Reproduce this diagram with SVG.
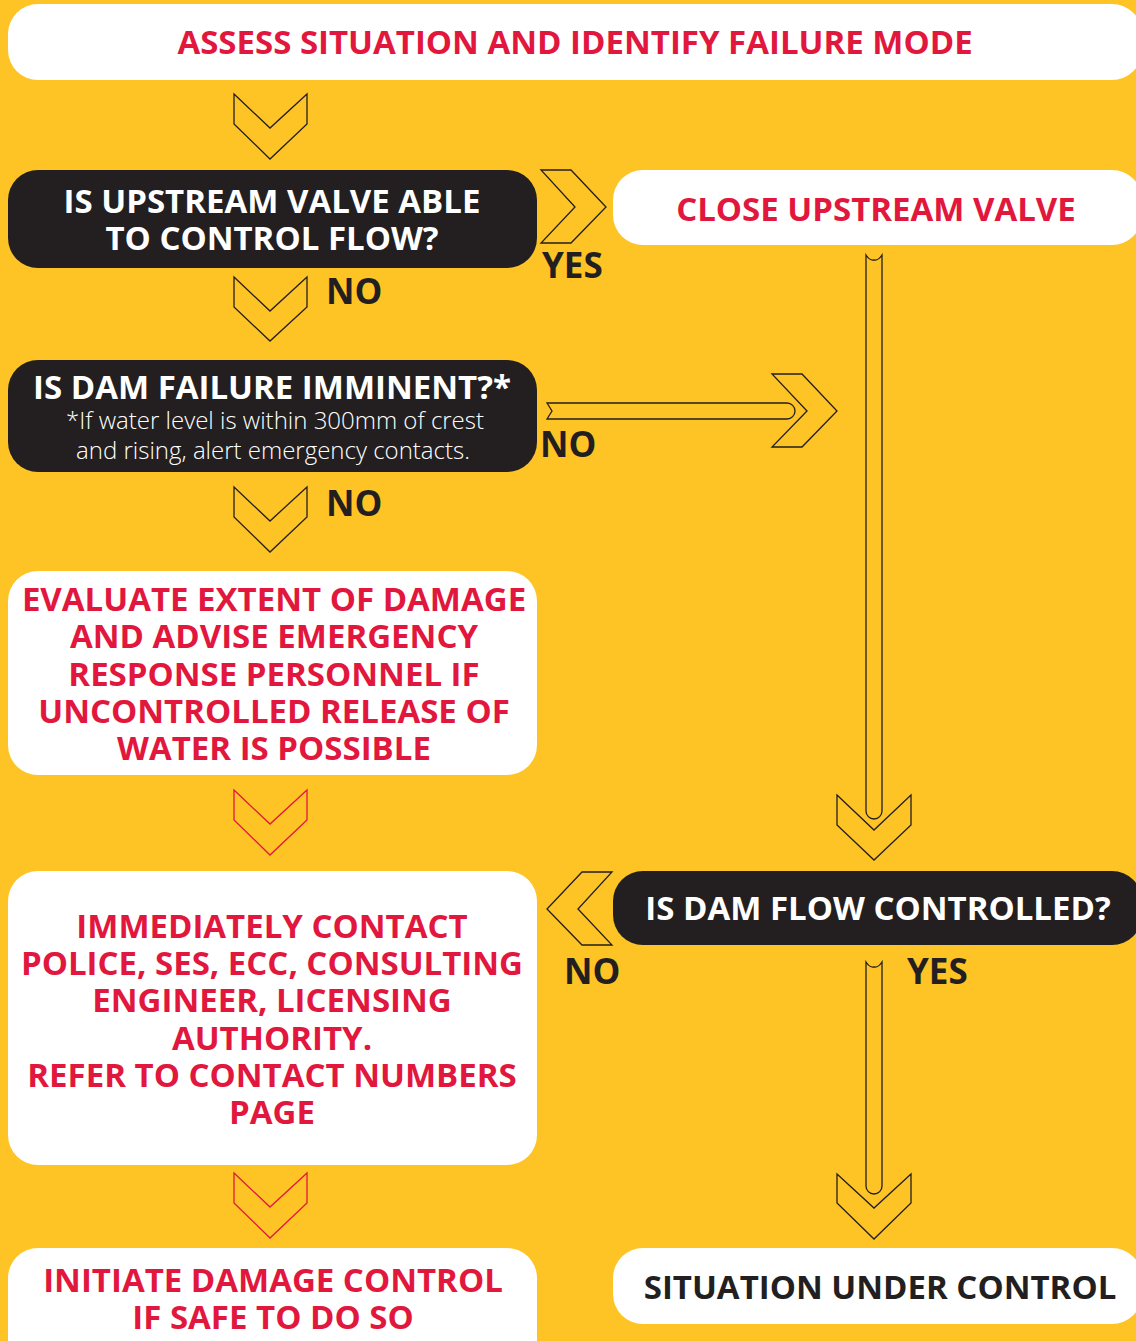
<svg xmlns="http://www.w3.org/2000/svg" width="1136" height="1341" viewBox="0 0 1136 1341">
<style>
.bg{fill:#FEC325}
.wbox{fill:#FFFFFF}
.dbox{fill:#231F20}
.t{font-family:"Open Sans","Noto Sans","Liberation Sans",sans-serif;font-weight:700;text-anchor:middle;font-size:33px}
.red{fill:#E2173D}
.wt{fill:#FFFFFF}
.dk{fill:#231F20}
.sm{font-family:"Open Sans","Noto Sans","Liberation Sans",sans-serif;font-weight:300;text-anchor:middle;fill:#FFFFFF;font-size:24px}
.lbl{font-family:"Open Sans","Noto Sans","Liberation Sans",sans-serif;font-weight:700;fill:#231F20;font-size:35px}
.chev{fill:none;stroke:#231F20;stroke-width:1.3;stroke-linejoin:miter}
.chevr{fill:none;stroke:#E2173D;stroke-width:1.3}
</style>
<rect class="bg" x="0" y="0" width="1136" height="1341"/>

<g id="n-assess">
<rect class="wbox" x="8" y="4" width="1134" height="76" rx="30"/>
<text class="t red" x="575" y="54">ASSESS SITUATION AND IDENTIFY FAILURE MODE</text>
</g>

<g id="n-upstream">
<rect class="dbox" x="8" y="170" width="529" height="98" rx="30"/>
<text class="t wt" x="272" y="213">IS UPSTREAM VALVE ABLE</text>
<text class="t wt" x="272" y="250">TO CONTROL FLOW?</text>
</g>

<g id="n-close">
<rect class="wbox" x="613" y="170" width="529" height="75" rx="30"/>
<text class="t red" x="876" y="221">CLOSE UPSTREAM VALVE</text>
</g>

<g id="n-imminent">
<rect class="dbox" x="8" y="360" width="529" height="112" rx="30"/>
<text class="t wt" x="272" y="399">IS DAM FAILURE IMMINENT?*</text>
<text class="sm" x="275" y="429">*If water level is within 300mm of crest</text>
<text class="sm" x="273" y="459">and rising, alert emergency contacts.</text>
</g>

<g id="n-evaluate">
<rect class="wbox" x="8" y="571" width="529" height="204" rx="30"/>
<text class="t red" x="274" y="611">EVALUATE EXTENT OF DAMAGE</text>
<text class="t red" x="274" y="648">AND ADVISE EMERGENCY</text>
<text class="t red" x="274" y="686">RESPONSE PERSONNEL IF</text>
<text class="t red" x="274" y="723">UNCONTROLLED RELEASE OF</text>
<text class="t red" x="274" y="760">WATER IS POSSIBLE</text>
</g>

<g id="n-contact">
<rect class="wbox" x="8" y="871" width="529" height="294" rx="30"/>
<text class="t red" x="272" y="938">IMMEDIATELY CONTACT</text>
<text class="t red" x="272" y="975">POLICE, SES, ECC, CONSULTING</text>
<text class="t red" x="272" y="1012">ENGINEER, LICENSING</text>
<text class="t red" x="272" y="1050">AUTHORITY.</text>
<text class="t red" x="272" y="1087">REFER TO CONTACT NUMBERS</text>
<text class="t red" x="272" y="1124">PAGE</text>
</g>

<g id="n-flow">
<rect class="dbox" x="613" y="871" width="529" height="74" rx="30"/>
<text class="t wt" x="878" y="920">IS DAM FLOW CONTROLLED?</text>
</g>

<g id="n-initiate">
<rect class="wbox" x="8" y="1248" width="529" height="140" rx="30"/>
<text class="t red" x="273" y="1292">INITIATE DAMAGE CONTROL</text>
<text class="t red" x="273" y="1329">IF SAFE TO DO SO</text>
</g>

<g id="n-situation">
<rect class="wbox" x="613" y="1248" width="529" height="76" rx="30"/>
<text class="t dk" x="880" y="1299" font-size="32">SITUATION UNDER CONTROL</text>
</g>

<g id="connectors">
<path class="chev" d="M234,94 L270,128 L307,94 L307,124 L270,159 L234,124 Z"/>
<path class="chev" d="M541,170 L571,170 L606,207 L571,243 L541,243 L575,207 Z"/>
<text class="lbl" x="542" y="278">YES</text>
<path class="chev" d="M234,277 L270,311 L307,277 L307,307 L270,341 L234,307 Z"/>
<text class="lbl" x="326" y="304">NO</text>
<path class="chev" d="M547,403 L787,403 A8,8 0 0 1 787,419 L547,419 L552,411 Z"/>
<path class="chev" d="M772,374 L802,374 L837,411 L802,447 L772,447 L807,411 Z"/>
<text class="lbl" x="540" y="457">NO</text>
<path class="chev" d="M866,255 Q870,261 874,260 Q878,261 882,255 L882,811 A8,8 0 0 1 866,811 Z"/>
<path class="chev" d="M837,795 L874,830 L911,795 L911,825 L874,860 L837,825 Z"/>
<path class="chev" d="M234,487 L270,521 L307,487 L307,517 L270,552 L234,517 Z"/>
<text class="lbl" x="326" y="516">NO</text>
<path class="chevr" d="M234,790 L270,824 L307,790 L307,820 L270,855 L234,820 Z"/>
<path class="chev" d="M612,872 L582,872 L547,909 L582,945 L612,945 L578,909 Z"/>
<text class="lbl" x="564" y="984">NO</text>
<text class="lbl" x="907" y="984">YES</text>
<path class="chev" d="M866,962 Q870,968 874,967 Q878,968 882,962 L882,1186 A8,8 0 0 1 866,1186 Z"/>
<path class="chev" d="M837,1174 L874,1208 L911,1174 L911,1203 L874,1239 L837,1203 Z"/>
<path class="chevr" d="M234,1173 L270,1207 L307,1173 L307,1203 L270,1238 L234,1203 Z"/>
</g>
</svg>
